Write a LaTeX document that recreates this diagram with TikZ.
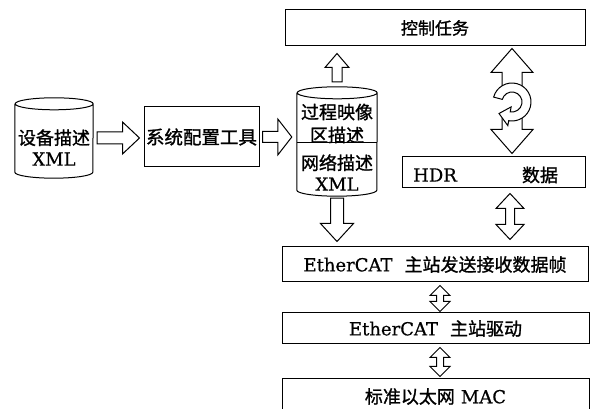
\documentclass[tikz,border=0pt]{standalone}
\usepackage{fontspec}
\setmainfont[FakeBold=0.6]{DejaVu Serif}
\newfontfamily\cjk[FakeBold=1.2]{Noto Sans CJK SC}
\usetikzlibrary{calc}
\tikzset{
  frm/.style={draw, line width=1pt, inner sep=0pt},
  txt/.style={inner sep=0pt, align=center, font=\fontsize{18}{21}\selectfont},
  blk/.style={draw, line width=1pt, fill=white, line join=miter},
}
% right-pointing block arrow: #1 tail, #2 tip, #3 shaft half, #4 head half, #5 head length
\newcommand\RArrow[5]{\draw[blk] let \p1=#1, \p2=#2 in
  (\x1,\y1+#3) -- (\x2-#5,\y1+#3) -- (\x2-#5,\y1+#4) -- (\x2,\y1) -- (\x2-#5,\y1-#4) -- (\x2-#5,\y1-#3) -- (\x1,\y1-#3) -- cycle;}
\newcommand\UArrow[5]{\draw[blk] let \p1=#1, \p2=#2 in
  (\x1-#3,\y1) -- (\x1-#3,\y2-#5) -- (\x1-#4,\y2-#5) -- (\x1,\y2) -- (\x1+#4,\y2-#5) -- (\x1+#3,\y2-#5) -- (\x1+#3,\y1) -- cycle;}
\newcommand\DArrow[5]{\draw[blk] let \p1=#1, \p2=#2 in
  (\x1-#3,\y1) -- (\x1-#3,\y2+#5) -- (\x1-#4,\y2+#5) -- (\x1,\y2) -- (\x1+#4,\y2+#5) -- (\x1+#3,\y2+#5) -- (\x1+#3,\y1) -- cycle;}
\newcommand\VDArrow[5]{\draw[blk] let \p1=#1, \p2=#2 in
  (\x1,\y1) -- (\x1+#4,\y1-#5) -- (\x1+#3,\y1-#5) -- (\x1+#3,\y2+#5) -- (\x1+#4,\y2+#5) -- (\x1,\y2) -- (\x1-#4,\y2+#5) -- (\x1-#3,\y2+#5) -- (\x1-#3,\y1-#5) -- (\x1-#4,\y1-#5) -- cycle;}
% cylinder outline around a node: #1 node, #2 x radius
\newcommand\Cyl[2]{\draw[line width=1pt] ([yshift=-6pt]#1.north west) -- ([yshift=6pt]#1.south west)
  arc[start angle=180,end angle=360,x radius=#2,y radius=6] -- ([yshift=-6pt]#1.north east)
  arc[start angle=0,end angle=180,x radius=#2,y radius=6]
  arc[start angle=180,end angle=360,x radius=#2,y radius=6];}
\begin{document}
\begin{tikzpicture}[x=1pt,y=1pt]
\useasboundingbox (0,0) rectangle (595,409);
% boxes
\node[frm, minimum width=300, minimum height=36, font=\fontsize{17}{20}\selectfont] (ctl) at (435,381) {\cjk 控制任务};
\node[minimum width=78, minimum height=80, inner sep=0pt] (dev) at (54,271) {};
\node[txt] (devt) at (54,261.5) {{\cjk 设备描述}\\XML};
\node[frm, minimum width=115, minimum height=60, font=\fontsize{18.5}{21}\selectfont] (sys) at (201.5,272) {\cjk 系统配置工具};
\node[minimum width=80, minimum height=109, inner sep=0pt] (net) at (337,267.5) {};
\node[txt, font=\fontsize{18}{23}\selectfont] (neta) at (337,285.5) {{\cjk 过程映像}\\{\cjk 区描述}};
\node[txt] (netb) at (337,236.5) {{\cjk 网络描述}\\XML};
\node[frm, minimum width=183, minimum height=31] (hdr) at (493.5,236.5) {};
\node[txt] (hdrt) at (435,234) {HDR};
\node[txt] (hdrd) at (540,234) {\cjk 数据};
\node[frm, minimum width=306, minimum height=35, font=\fontsize{18}{21}\selectfont] (frame) at (435,144.5) {EtherCAT\hspace{12pt}{\cjk 主站发送接收数据帧}};
\node[frm, minimum width=307, minimum height=31, font=\fontsize{18}{21}\selectfont] (drv) at (435.5,80.5) {EtherCAT\hspace{12pt}{\cjk 主站驱动}};
\node[frm, minimum width=307, minimum height=35, font=\fontsize{18}{21}\selectfont] (mac) at (435.5,12.5) {{\cjk 标准以太网}\hspace{6pt}MAC};
% cylinders
\Cyl{dev}{39}
\Cyl{net}{40}
\draw[line width=1pt] (net.west |- 0,266) -- (net.east |- 0,266);
% axes for vertical arrows
\coordinate (ax5) at (512,300);
\coordinate (ax6) at (510,200);
\coordinate (ax7) at (440,100);
% block arrows
\RArrow{($(dev.east)+(4,0)$)}{($(sys.west)+(-4,0)$)}{6pt}{16pt}{17pt}
\RArrow{($(sys.east)+(3,0)$)}{($(net.west)+(-5,0)$)}{5.5pt}{18pt}{14pt}
\UArrow{($(net.north)+(0,5)$)}{($(ctl.south)+(0,-7)$)}{5pt}{12pt}{14pt}
\DArrow{($(net.south)+(0,-2)$)}{($(net.south |- frame.north)+(0,5)$)}{6.5pt}{16.5pt}{18pt}
\VDArrow{($(ax5 |- ctl.south)+(0,-2)$)}{($(ax5 |- hdr.north)+(0,3)$)}{10pt}{21pt}{24pt}
\VDArrow{($(ax6 |- hdr.south)+(0,-5)$)}{($(ax6 |- frame.north)+(0,7)$)}{4.5pt}{14pt}{15pt}
\VDArrow{($(ax7 |- frame.south)+(0,-3)$)}{($(ax7 |- drv.north)+(0,1)$)}{3.5pt}{10pt}{10pt}
\VDArrow{($(ax7 |- drv.south)+(0,-3)$)}{($(ax7 |- mac.north)+(0,2)$)}{3.5pt}{10pt}{10pt}
% circular arrow
\begin{scope}[shift={(512,307)}]
  \fill[white] (0,0) circle (19);
  \draw[blk] (165:19) arc[start angle=165,end angle=-100,radius=19] -- (-100:24) -- (-13,-11.5) -- (-100:5) -- (-100:10) arc[start angle=-100,end angle=165,radius=10] -- cycle;
\end{scope}
\end{tikzpicture}
\end{document}
